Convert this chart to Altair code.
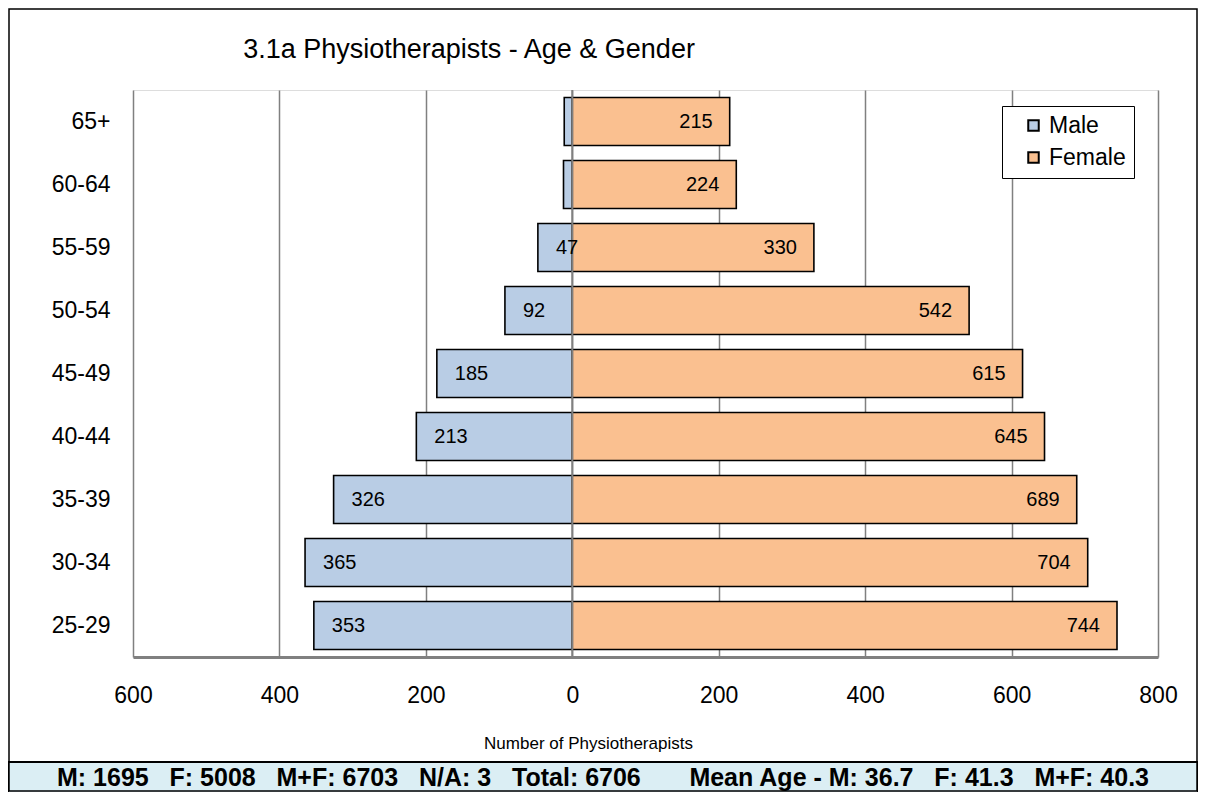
import altair as alt
import pandas as pd

ages = ["65+", "60-64", "55-59", "50-54", "45-49", "40-44", "35-39", "30-34", "25-29"]
male = [11, 12, 47, 92, 185, 213, 326, 365, 353]
female = [215, 224, 330, 542, 615, 645, 689, 704, 744]
x_ticks = [-600, -400, -200, 0, 200, 400, 600, 800]

title_text = "3.1a Physiotherapists - Age & Gender"
axis_title = "Number of Physiotherapists"
NB = "\u00a0"
S3 = NB * 3
footer_text = (f"M: 1695{S3}F: 5008{S3}M+F: 6703{S3}N/A: 3{S3}Total: 6706"
               f"{NB * 7}Mean Age - M: 36.7{S3}F: 41.3{S3}M+F: 40.3")

rows = []
for a, m, f in zip(ages, male, female):
    rows.append({"age": a, "gender": "Male", "value": m, "signed": -m})
    rows.append({"age": a, "gender": "Female", "value": f, "signed": f})
df = pd.DataFrame(rows)

FONT = "Liberation Sans"
W, H = 1025, 567
PL, PT, PR, PB = 125, 82, 40, 135

xscale = alt.Scale(domain=[-600, 800], nice=False, zero=False)
yscale = alt.Scale(domain=ages, paddingInner=0.24, paddingOuter=0.12)

base = alt.Chart(df)

bars = base.mark_bar(stroke="black", strokeWidth=1.6).encode(
    y=alt.Y("age:N", scale=yscale, sort=ages,
            axis=alt.Axis(title=None, labelFontSize=23, labelColor="black", labelFont=FONT,
                          ticks=False, domain=False, labelPadding=23)),
    x=alt.X("signed:Q", scale=xscale, stack=None,
            axis=alt.Axis(values=x_ticks, labelExpr="abs(datum.value)", labelFontSize=23,
                          labelColor="black", labelFont=FONT, ticks=False, labelFlush=False,
                          domainColor="#808080", domainWidth=3,
                          grid=True, gridColor="#808080", gridWidth=1.5,
                          labelPadding=27,
                          title=axis_title, titleFontSize=17, titleFontWeight="normal",
                          titleFont=FONT, titleColor="black",
                          titleX=455, titleY=86, titleAlign="center", titleBaseline="middle")),
    color=alt.Color("gender:N",
                    scale=alt.Scale(domain=["Male", "Female"], range=["#B9CDE5", "#FAC090"]),
                    legend=alt.Legend(title=None, orient="none", legendX=869, legendY=16,
                                      fillColor="white", strokeColor="black", padding=8,
                                      symbolType="square", symbolSize=110,
                                      symbolStrokeColor="black", symbolStrokeWidth=2,
                                      symbolOpacity=1,
                                      labelFontSize=23, labelFont=FONT, labelColor="black",
                                      labelExpr="datum.label + '\u00a0\u00a0'",
                                      rowPadding=8, labelOffset=4, symbolOffset=12,
                                      labelLimit=200)),
)

zero_rule = alt.Chart(pd.DataFrame({"z": [0]})).mark_rule(color="#808080", strokeWidth=2).encode(
    x=alt.X("z:Q", scale=xscale)
)

male_labels = base.transform_filter(
    "datum.gender == 'Male' && datum.value >= 20"
).mark_text(align="left", baseline="middle", dx=18, fontSize=20, font=FONT, color="black").encode(
    y=alt.Y("age:N", scale=yscale, sort=ages),
    x=alt.X("signed:Q", scale=xscale),
    text=alt.Text("value:Q"),
)

female_labels = base.transform_filter(
    "datum.gender == 'Female'"
).mark_text(align="right", baseline="middle", dx=-17, fontSize=20, font=FONT, color="black").encode(
    y=alt.Y("age:N", scale=yscale, sort=ages),
    x=alt.X("signed:Q", scale=xscale),
    text=alt.Text("value:Q"),
)

footer_box = alt.Chart(pd.DataFrame({"k": [1]})).mark_rect(
    fill="#DBEEF4", stroke="black", strokeWidth=2
).encode(
    x=alt.value(-PL), x2=alt.value(W + PR), y=alt.value(672), y2=alt.value(H + PB + 2)
)

outer_border = alt.Chart(pd.DataFrame({"k": [1]})).mark_rect(
    fill=None, fillOpacity=0, stroke="black", strokeWidth=1.5
).encode(
    x=alt.value(-PL + 1), x2=alt.value(W + PR - 1), y=alt.value(-PT + 1), y2=alt.value(H + PB - 1)
)

footer = alt.Chart(pd.DataFrame({"t": [footer_text]})).mark_text(
    align="center", baseline="middle", fontSize=25, fontWeight="bold", font=FONT, color="black"
).encode(x=alt.value(470), y=alt.value(688), text="t:N")

title = alt.Chart(pd.DataFrame({"t": [title_text]})).mark_text(
    align="center", baseline="middle", fontSize=27, font=FONT, color="black"
).encode(x=alt.value(336), y=alt.value(-40), text="t:N")

chart = alt.layer(
    footer_box, bars, zero_rule, male_labels, female_labels, outer_border, footer, title
).properties(
    width=W, height=H,
    padding={"left": PL, "top": PT, "right": PR, "bottom": PB},
    autosize=alt.AutoSizeParams(type="none"),
).configure_view(
    stroke="black", strokeWidth=1.5
).configure(background="white")

chart.save("out.html", embed_options={"renderer": "svg", "actions": False})
